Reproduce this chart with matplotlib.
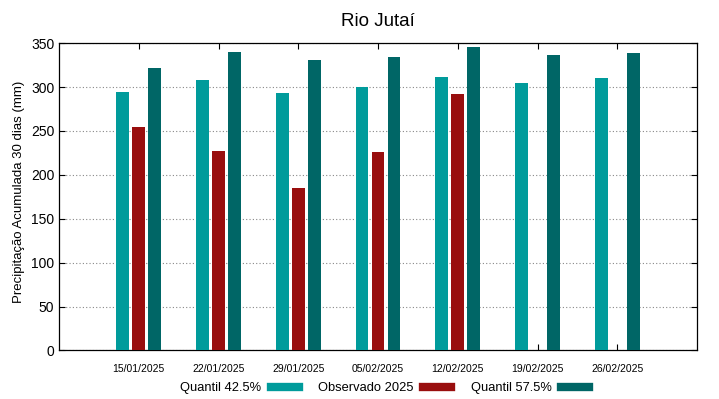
import numpy as np
from matplotlib import pyplot as plt
from matplotlib.lines import Line2D

plt.rcParams['font.family'] = ['Liberation Sans', 'DejaVu Sans']

datas = ['15/01/2025', '22/01/2025', '29/01/2025', '05/02/2025',
         '12/02/2025', '19/02/2025', '26/02/2025']
q425 = [294, 308, 293, 300, 311, 304, 310]
obs = [254, 227, 185, 226, 292, np.nan, np.nan]
q575 = [322, 340, 331, 334, 346, 336, 339]

c1 = '#009b9b'
c2 = '#990e0e'
c3 = '#006666'

fig = plt.figure(figsize=(7.19, 3.99), dpi=100)
ax = fig.add_axes([0.0821, 0.1216, 0.8873, 0.7704])

x = np.arange(1, len(datas) + 1)
w = 0.16
ax.bar(x - 0.2, q425, w, color=c1, zorder=3)
ax.bar(x, obs, w, color=c2, zorder=3)
ax.bar(x + 0.2, q575, w, color=c3, zorder=3)

ax.set_xlim(0, 8)
ax.set_ylim(0, 350)
ax.set_xticks(x)
ax.set_xticklabels(datas, fontsize=7.5)
ax.set_yticks(range(0, 351, 50))
ax.tick_params(axis='y', labelsize=10, direction='in', right=True, length=4)
ax.tick_params(axis='x', direction='in', top=True, length=4, pad=10)
ax.yaxis.grid(True, linestyle=(0, (1, 2)), color='#888888', linewidth=0.8, zorder=0)
for s in ax.spines.values():
    s.set_linewidth(0.9)

ax.set_ylabel('Precipitação Acumulada 30 dias (mm)', fontsize=9.5)
ax.yaxis.set_label_coords(-0.053, 0.515)
ax.set_title('Rio Jutaí', fontsize=13.5, pad=12)

handles = [Line2D([], [], color=c1, lw=6),
           Line2D([], [], color=c2, lw=6),
           Line2D([], [], color=c3, lw=6)]
fig.legend(handles, ['Quantil 42.5%', 'Observado 2025', 'Quantil 57.5%'],
           loc='center', bbox_to_anchor=(0.535, 0.027), ncol=3, frameon=False,
           markerfirst=False, handlelength=2.2, columnspacing=1.5,
           handletextpad=0.7, fontsize=9.3)

plt.savefig('out.png', dpi=100)
